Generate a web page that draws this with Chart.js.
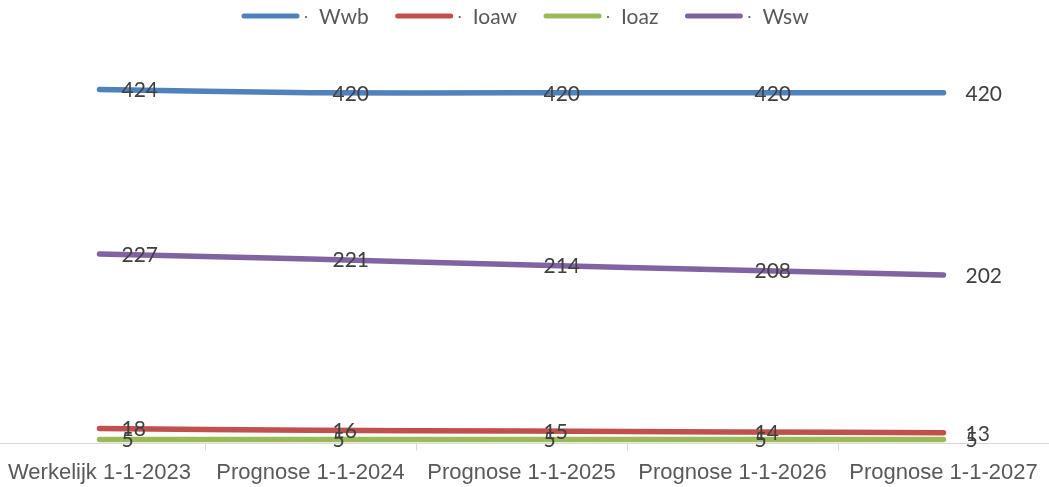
<!DOCTYPE html>
<html>
<head>
<meta charset="utf-8">
<script src="https://cdn.jsdelivr.net/npm/chart.js@4.4.1/dist/chart.umd.min.js"></script>
<style>
  html, body { margin: 0; padding: 0; background: #fff; }
  #wrap { width: 1049px; height: 487px; position: relative; overflow: hidden; }
  #inner { position: absolute; left: -6px; top: 0; width: 1055px; height: 496px; }
</style>
</head>
<body>
<div id="wrap"><div id="inner"><canvas id="chart"></canvas></div></div>
<script>
const categories = ['Werkelijk 1-1-2023', 'Prognose 1-1-2024', 'Prognose 1-1-2025', 'Prognose 1-1-2026', 'Prognose 1-1-2027'];
const wwb = [424, 420, 420, 420, 420];
const ioaw = [18, 16, 15, 14, 13];
const ioaz = [5, 5, 5, 5, 5];
const wsw = [227, 221, 214, 208, 202];

const SHIFT = 6; // canvas is moved 6px left of the page

// value labels, left aligned a bit to the right of each point
const valueLabels = {
  id: 'valueLabels',
  afterDatasetsDraw(chart) {
    const ctx = chart.ctx;
    ctx.save();
    ctx.font = '21px Lato, "Noto Sans", sans-serif';
    ctx.fillStyle = '#404040';
    ctx.textBaseline = 'middle';
    ctx.textAlign = 'left';
    chart.data.datasets.forEach((ds, i) => {
      const meta = chart.getDatasetMeta(i);
      meta.data.forEach((pt, j) => {
        ctx.fillText(String(ds.data[j]), pt.x + 22, pt.y + 1);
      });
    });
    ctx.restore();
  }
};

// legend drawn by hand so it sits where the original one does
const lineLegend = {
  id: 'lineLegend',
  afterDraw(chart) {
    const ctx = chart.ctx;
    ctx.save();
    ctx.font = '21px Lato, "Noto Sans", sans-serif';
    ctx.textBaseline = 'middle';
    ctx.textAlign = 'left';
    let x = 242 + SHIFT;
    const y = 16;
    chart.data.datasets.forEach(ds => {
      ctx.strokeStyle = ds.borderColor;
      ctx.lineWidth = 5;
      ctx.lineCap = 'round';
      ctx.beginPath();
      ctx.moveTo(x + 2, y);
      ctx.lineTo(x + 55, y);
      ctx.stroke();
      ctx.fillStyle = '#595959';
      ctx.beginPath();
      ctx.arc(x + 64, y + 1, 1.1, 0, Math.PI * 2);
      ctx.fill();
      ctx.fillText(ds.label, x + 77, y + 1);
      x += 77 + ctx.measureText(ds.label).width + 27;
    });
    ctx.restore();
  }
};

const lineDs = (label, data, color) => ({
  label: label,
  data: data,
  borderColor: color,
  backgroundColor: color,
  borderWidth: 5.5,
  borderCapStyle: 'round',
  pointRadius: 0,
  pointHoverRadius: 0,
  tension: 0.35,
  fill: false
});

new Chart(document.getElementById('chart'), {
  type: 'line',
  data: {
    labels: categories,
    datasets: [
      lineDs('Wwb', wwb, '#4f81bd'),
      lineDs('Ioaw', ioaw, '#c0504d'),
      lineDs('Ioaz', ioaz, '#9bbb59'),
      lineDs('Wsw', wsw, '#8064a2')
    ]
  },
  options: {
    responsive: true,
    maintainAspectRatio: false,
    animation: false,
    layout: { padding: { left: 0, right: 0, top: 26, bottom: 1 } },
    plugins: {
      legend: { display: false },
      tooltip: { enabled: false }
    },
    scales: {
      x: {
        offset: true,
        grid: {
          offset: true,
          drawOnChartArea: false,
          color: '#d9d9d9',
          tickLength: 7
        },
        border: { color: '#d9d9d9', width: 1 },
        ticks: {
          color: '#595959',
          font: { family: '"Liberation Sans", Arial, sans-serif', size: 22 },
          maxRotation: 0,
          autoSkip: false,
          padding: 9
        }
      },
      y: {
        display: false,
        min: 0,
        max: 500
      }
    }
  },
  plugins: [valueLabels, lineLegend]
});
</script>
</body>
</html>
